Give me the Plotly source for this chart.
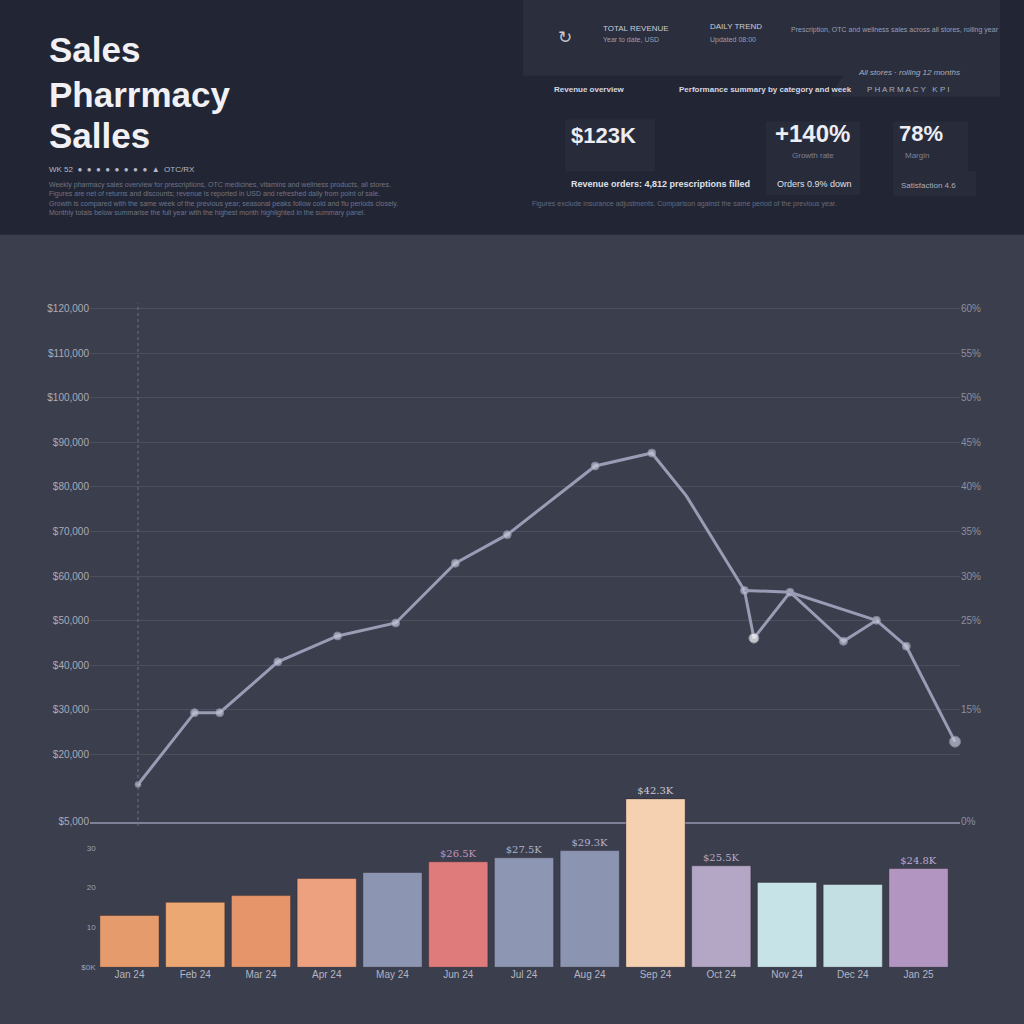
import plotly.graph_objects as go

W = H = 1024

# ---------------- data ----------------
weeks = [0, 3.6, 5.2, 8.9, 12.7, 16.4, 20.2, 23.5, 29.1, 32.7, 34.9, 38.6, 39.2, 41.5, 44.9, 47.0, 48.9, 52]
weekly_sales_k = [13.3, 29.4, 29.4, 40.8, 46.6, 49.5, 62.9, 69.3, 84.7, 87.6, 78.0, 56.8, 46.1, 56.4, 45.4, 50.1, 44.3, 22.9]
branch_weeks = [38.6, 41.5, 47.0]
branch_sales_k = [56.8, 56.4, 50.1]

left_tick_vals = [5, 20, 30, 40, 50, 60, 70, 80, 90, 100, 110, 120]
left_tick_text = ["$5,000", "$20,000", "$30,000", "$40,000", "$50,000", "$60,000", "$70,000",
                  "$80,000", "$90,000", "$100,000", "$110,000", "$120,000"]
right_tick_vals = [5, 30, 50, 60, 70, 80, 90, 100, 110, 120]
right_tick_text = ["0%", "15%", "25%", "30%", "35%", "40%", "45%", "50%", "55%", "60%"]

months = ["Jan 24", "Feb 24", "Mar 24", "Apr 24", "May 24", "Jun 24", "Jul 24",
          "Aug 24", "Sep 24", "Oct 24", "Nov 24", "Dec 24", "Jan 25"]
monthly_sales_k = [13.0, 16.3, 18.0, 22.3, 23.8, 26.5, 27.5, 29.3, 42.3, 25.5, 21.3, 20.8, 24.8]
bar_labels = ["", "", "", "", "", "$26.5K", "$27.5K", "$29.3K", "$42.3K", "$25.5K", "", "", "$24.8K"]
bar_tick_vals = [0, 10, 20, 30]
bar_tick_text = ["$0K", "10", "20", "30"]

bar_colors = ["#e59b6b", "#eca873", "#e6956b", "#eda17f", "#8c96b3", "#e07b7b", "#8d97b4",
              "#8b95b1", "#f6d1b1", "#b4a7c5", "#c6e4e7", "#c3dfe4", "#b296c1"]
bar_label_colors = ["#b98fb5"] * 5 + ["#c294bd", "#b0b2c6", "#b9b0cc", "#c9c9d8", "#b8a8c9", "#b0b0c0", "#b0b0c0", "#c0a8cc"]

# ---------------- helpers (pixel -> paper) ----------------
def X(px):
    return px / W

def Y(py):
    return 1 - py / H

HEADER = "#222634"
BAND = "#2b2f3d"
CARD = "#282c3a"
BG = "#3b3e4c"
FONT = "Liberation Sans, Arial, sans-serif"

# line chart axes geometry
line_x0, line_x1 = 90, 960
line_y0, line_y1 = 300, 826
x_range = [(line_x0 - 138) / 817 * 52, (line_x1 - 138) / 817 * 52]
y_range = [4.9, 20 + (758 - 300) * 100 / 448]

fig = go.Figure()

marker_colors = ["#c4c6d8"] * len(weeks)
marker_sizes = [8] * len(weeks)
marker_sizes[0] = 6
marker_sizes[10] = 0
marker_colors[12] = "#ffffff"
marker_sizes[12] = 10
marker_sizes[-1] = 11

fig.add_trace(go.Scatter(
    x=weeks, y=weekly_sales_k, mode="lines+markers",
    line=dict(color="#9a9bb4", width=3),
    marker=dict(color=marker_colors, size=marker_sizes),
    cliponaxis=False,
    xaxis="x", yaxis="y", showlegend=False, hoverinfo="x+y",
))
fig.add_trace(go.Scatter(
    x=branch_weeks, y=branch_sales_k, mode="lines",
    line=dict(color="#9a9bb4", width=3),
    xaxis="x", yaxis="y2", showlegend=False,
))

fig.add_trace(go.Bar(
    x=months, y=monthly_sales_k,
    marker=dict(color=bar_colors, line=dict(color="rgba(40,30,40,0.35)", width=1)),
    text=bar_labels, textposition="outside",
    textfont=dict(color=bar_label_colors, size=10, family="DejaVu Serif, serif"),
    cliponaxis=False,
    xaxis="x2", yaxis="y3", showlegend=False,
))

fig.update_layout(
    width=W, height=H,
    margin=dict(l=0, r=0, t=0, b=0),
    paper_bgcolor=BG, plot_bgcolor="rgba(0,0,0,0)",
    font=dict(family=FONT, color="#b0b3c2"),
    bargap=0.1,
    xaxis=dict(domain=[X(line_x0), X(line_x1)], range=x_range, showgrid=False,
               showticklabels=False, zeroline=False, showline=True,
               linecolor="#7f8296", linewidth=1.5, anchor="y", ticks=""),
    yaxis=dict(domain=[Y(line_y1), Y(line_y0)], range=y_range, tickvals=left_tick_vals,
               ticktext=left_tick_text, showgrid=True, gridcolor="rgba(255,255,255,0.09)",
               gridwidth=1, zeroline=False, tickfont=dict(size=10, color="#a9abba"),
               anchor="x", ticks=""),
    yaxis2=dict(overlaying="y", side="right", range=y_range, tickvals=right_tick_vals,
                ticktext=right_tick_text, showgrid=False, zeroline=False,
                tickfont=dict(size=10, color="#8c8ea0"), anchor="x"),
    xaxis2=dict(domain=[X(96.6), X(951.4)], anchor="y3", showgrid=False, zeroline=False,
                tickfont=dict(size=10, color="#b3b5c4"), ticks=""),
    yaxis3=dict(domain=[Y(972), Y(790)], range=[0, 45.5], anchor="x2", showgrid=False,
                zeroline=False, tickvals=bar_tick_vals, ticktext=bar_tick_text,
                tickfont=dict(size=8, color="#9fa2b2"), ticks=""),
)

shapes = []
# header background
shapes.append(dict(type="rect", xref="paper", yref="paper", x0=0, x1=1, y0=Y(236), y1=1,
                   fillcolor=HEADER, line=dict(width=0), layer="below"))
# right top band with notch
path = (f"M {X(523)},{Y(0)} L {X(1000)},{Y(0)} L {X(1000)},{Y(97)} L {X(830)},{Y(97)} "
        f"L {X(843)},{Y(76)} L {X(523)},{Y(76)} Z")
shapes.append(dict(type="path", xref="paper", yref="paper", path=path,
                   fillcolor=BAND, line=dict(width=0), layer="below"))
# KPI cards
for (a, b, c, d) in [(565, 655, 120, 172), (766, 860, 122, 196), (893, 968, 122, 172), (893, 976, 172, 197)]:
    shapes.append(dict(type="rect", xref="paper", yref="paper", x0=X(a), x1=X(b), y0=Y(d), y1=Y(c),
                       fillcolor=CARD, line=dict(width=0), layer="below"))
# vertical dotted axis at week 0
shapes.append(dict(type="line", xref="x", yref="paper", x0=0, x1=0, y0=Y(830), y1=Y(305),
                   line=dict(color="#6e7284", width=1, dash="dot")))
fig.update_layout(shapes=shapes)

ann = []
def T(text, px, py, size, color, xanchor="left", bold=False, family=FONT, italic=False):
    if bold:
        text = f"<b>{text}</b>"
    if italic:
        text = f"<i>{text}</i>"
    ann.append(dict(text=text, x=X(px), y=Y(py), xref="paper", yref="paper",
                    xanchor=xanchor, yanchor="middle", showarrow=False,
                    font=dict(size=size, color=color, family=family)))

# title
T("Sales", 47, 50, 35, "#f1f1f5", bold=True)
T("Pharrmacy", 47, 95, 35, "#f1f1f5", bold=True)
T("Salles", 47, 136, 35, "#f1f1f5", bold=True)
T("WK 52  ●  ●  ●  ●  ●  ●  ●  ●  ▲  OTC/RX", 47, 170, 8, "#b4b7c6")
desc = [
    "Weekly pharmacy sales overview for prescriptions, OTC medicines, vitamins and wellness products, all stores.",
    "Figures are net of returns and discounts; revenue is reported in USD and refreshed daily from point of sale.",
    "Growth is compared with the same week of the previous year; seasonal peaks follow cold and flu periods closely.",
    "Monthly totals below summarise the full year with the highest month highlighted in the summary panel.",
]
for i, line in enumerate(desc):
    T(line, 47, 186 + i * 9.3, 7, "#6f7386")

# right panel top row
T("↻", 556, 37, 17, "#c3c6d3", family="DejaVu Sans")
T("TOTAL REVENUE", 601, 29, 8, "#c9ccd8")
T("Year to date, USD", 601, 40, 7, "#9a9db0")
T("DAILY TREND", 708, 27, 8, "#c9ccd8")
T("Updated 08:00", 708, 40, 7, "#9a9db0")
T("Prescription, OTC and wellness sales across all stores, rolling year", 789, 30, 7, "#9a9db0")
T("Revenue overview", 552, 90, 8, "#d5d7e2", bold=True)
T("Performance summary by category and week", 677, 90, 8, "#d5d7e2", bold=True)
T("All stores · rolling 12 months", 856, 73, 8, "#a9acbb", italic=True)
T("P H A R M A C Y   K P I", 865, 90, 8, "#a9acbb")
# KPI values
T("$123K", 569, 136, 22, "#eceef4", bold=True)
T("+140%", 773, 134, 24, "#eceef4", bold=True)
T("Growth rate", 790, 156, 8, "#7d8195")
T("78%", 897, 134, 22, "#eceef4", bold=True)
T("Margin", 903, 156, 8, "#7d8195")
T("Revenue orders: 4,812 prescriptions filled", 569, 185, 9, "#dfe1ea", bold=True)
T("Orders 0.9% down", 775, 185, 9, "#dfe1ea")
T("Satisfaction 4.6", 899, 186, 8, "#a8abb9")
T("Figures exclude insurance adjustments. Comparison against the same period of the previous year.", 530, 205, 7, "#666a7c")

fig.update_layout(annotations=ann)

fig.write_html("out.html", config={"displayModeBar": False},
               post_script="document.body.style.margin='0';document.body.style.background='" + BG + "';")
